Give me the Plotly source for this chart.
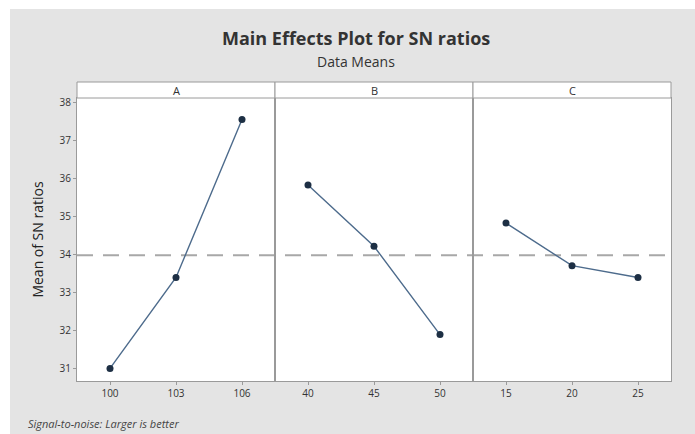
import numpy as np
import plotly.graph_objects as go
from plotly.subplots import make_subplots

# Factor levels and mean SN ratios for each factor
factors = ["A", "B", "C"]
levels_a = ["100", "103", "106"]
levels_b = ["40", "45", "50"]
levels_c = ["15", "20", "25"]
sn_a = [31.00, 33.39, 37.54]
sn_b = [35.82, 34.21, 31.89]
sn_c = [34.82, 33.70, 33.39]
y_ticks = [31, 32, 33, 34, 35, 36, 37, 38]

levels = [levels_a, levels_b, levels_c]
means = [sn_a, sn_b, sn_c]
grand_mean = float(np.mean(sn_a + sn_b + sn_c))

W, H = 695, 434
L, R, T, B = 77, 24, 98, 53
pw, ph = W - L - R, H - T - B


def px_x(px):
    """Pixel column -> paper x."""
    return (px - L) / pw


def px_y(py):
    """Pixel row (from top) -> paper y."""
    return (H - B - py) / ph


fig = make_subplots(rows=1, cols=3, shared_yaxes=True, horizontal_spacing=0)

line_col = "#4d6b8c"
mark_col = "#1d2f44"
frame_col = "#9a9a9a"
text_col = "#333333"
font_fam = "Open Sans, Noto Sans, sans-serif"

for i, (lv, mv) in enumerate(zip(levels, means)):
    fig.add_trace(
        go.Scatter(
            x=lv, y=mv, mode="lines+markers",
            line=dict(color=line_col, width=1.4),
            marker=dict(color=mark_col, size=7),
            showlegend=False, hoverinfo="x+y",
        ),
        row=1, col=i + 1,
    )
    fig.update_xaxes(
        type="category", range=[-0.5, 2.5],
        showline=True, mirror=True, linecolor=frame_col, linewidth=1,
        ticks="outside", ticklen=3, tickcolor=frame_col,
        showgrid=False, zeroline=False,
        tickfont=dict(size=10, color=text_col, family=font_fam),
        row=1, col=i + 1,
    )

fig.update_yaxes(
    range=[30.67, 38.105], tickvals=y_ticks,
    showline=True, mirror=True, linecolor=frame_col, linewidth=1,
    showgrid=False, zeroline=False,
)
fig.update_yaxes(
    ticks="outside", ticklen=3, tickcolor=frame_col,
    tickfont=dict(size=10, color=text_col, family=font_fam),
    title=dict(text="Mean of SN ratios", standoff=12,
               font=dict(size=14, color="#222222", family=font_fam)),
    row=1, col=1,
)

shapes = []
# white margin along the top and left edges of the image
shapes.append(dict(type="rect", xref="paper", yref="paper",
                   x0=px_x(-2), x1=px_x(10), y0=px_y(H + 2), y1=px_y(-2),
                   fillcolor="white", line=dict(width=0)))
shapes.append(dict(type="rect", xref="paper", yref="paper",
                   x0=px_x(-2), x1=px_x(W + 2), y0=px_y(9), y1=px_y(-2),
                   fillcolor="white", line=dict(width=0)))

# header strips with factor names
strip_h = 16 / ph
for i, name in enumerate(factors):
    shapes.append(dict(type="rect", xref="paper", yref="paper",
                       x0=i / 3, x1=(i + 1) / 3, y0=1, y1=1 + strip_h,
                       fillcolor="white", line=dict(color=frame_col, width=1)))

# grand mean reference line across all panels
shapes.append(dict(type="line", xref="paper", yref="y",
                   x0=0, x1=1, y0=grand_mean, y1=grand_mean,
                   line=dict(color="#a8a8a8", width=2, dash="16px,10px"),
                   layer="below"))

annotations = []
for i, name in enumerate(factors):
    annotations.append(dict(text=name, xref="paper", yref="paper",
                            x=(i + 0.5) / 3, y=1 + strip_h / 2,
                            showarrow=False, xanchor="center", yanchor="middle",
                            font=dict(size=11, color=text_col, family=font_fam)))

annotations.append(dict(text="<b>Main Effects Plot for SN ratios</b>",
                        xref="paper", yref="paper",
                        x=px_x(356), y=px_y(38),
                        showarrow=False, xanchor="center", yanchor="middle",
                        font=dict(size=18, color="#333333", family=font_fam)))
annotations.append(dict(text="Data Means",
                        xref="paper", yref="paper",
                        x=px_x(356), y=px_y(62),
                        showarrow=False, xanchor="center", yanchor="middle",
                        font=dict(size=14, color="#333333", family=font_fam)))
annotations.append(dict(text="<i>Signal-to-noise: Larger is better</i>",
                        xref="paper", yref="paper",
                        x=px_x(26), y=px_y(423),
                        showarrow=False, xanchor="left", yanchor="middle",
                        font=dict(size=11, color="#444444", family=font_fam)))

fig.update_layout(
    width=W, height=H,
    margin=dict(l=L, r=R, t=T, b=B),
    paper_bgcolor="#e4e4e4",
    plot_bgcolor="white",
    shapes=shapes,
    annotations=annotations,
)

fig.write_html("out.html")
